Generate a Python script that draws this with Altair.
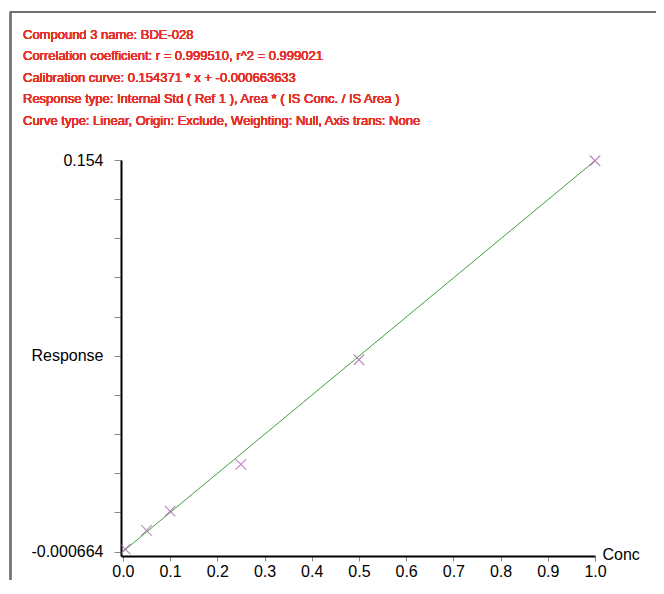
import altair as alt
import pandas as pd

# ---- data ----
conc = [0.005, 0.05, 0.1, 0.25, 0.5, 1.0]
response = [0.0003, 0.0077, 0.0153, 0.0338, 0.0751, 0.1537]

fit_x = [0.0, 1.0]
fit_y = [-0.000664, 0.153707]

x_ticks = [0.0, 0.1, 0.2, 0.3, 0.4, 0.5, 0.6, 0.7, 0.8, 0.9, 1.0]
y_ticks = [-0.000664, 0.014802, 0.030269, 0.045735, 0.061202, 0.076668,
           0.092134, 0.107601, 0.123067, 0.138534, 0.154]

header_lines = [
    "Compound 3 name: BDE-028",
    "Correlation coefficient: r = 0.999510, r^2 = 0.999021",
    "Calibration curve: 0.154371 * x + -0.000663633",
    "Response type: Internal Std ( Ref 1 ), Area * ( IS Conc. / IS Area )",
    "Curve type: Linear, Origin: Exclude, Weighting: Null, Axis trans: None",
]

pts = pd.DataFrame({"Conc": conc, "Response": response})
fit = pd.DataFrame({"Conc": fit_x, "Response": fit_y})

FONT = "Liberation Sans"
xscale = alt.Scale(domain=[-0.004, 1.0], nice=False, zero=False)
yscale = alt.Scale(domain=[-0.0024, 0.154], nice=False, zero=False)

label_expr = (
    "abs(datum.value - 0.154) < 0.0005 ? '0.154' : "
    "abs(datum.value + 0.000664) < 0.0005 ? '-0.000664' : "
    "abs(datum.value - 0.076668) < 0.0005 ? 'Response' : ''"
)

xaxis = alt.Axis(values=x_ticks, tickCount=30, format=".1f", grid=False, domainColor="black",
                 domainWidth=2, tickColor="#888", tickSize=5, tickWidth=1,
                 labelFont=FONT, labelFontSize=16, labelColor="black", labelPadding=2,
                 labelFlush=False, labelOverlap=False,
                 title="Conc", titleFont=FONT, titleFontSize=16, titleFontWeight="normal",
                 titleColor="black", titleAlign="left", titleBaseline="middle",
                 titleX=481, titleY=-2, titleAngle=0)
yaxis = alt.Axis(values=y_ticks, tickCount=30, labelExpr=label_expr, grid=False,
                 domainColor="black", domainWidth=2, tickColor="#888", tickSize=7, tickWidth=1,
                 labelFont=FONT, labelFontSize=16, labelColor="black", labelPadding=11,
                 labelFlush=False, labelOverlap=False, title=None)

base_x = alt.X("Conc:Q", scale=xscale, axis=xaxis)
base_y = alt.Y("Response:Q", scale=yscale, axis=yaxis)

line = alt.Chart(fit).mark_line(color="#3f9f3f", strokeWidth=1).encode(x=base_x, y=base_y)

points = alt.Chart(pts).mark_point(
    shape="M-1,-1L1,1M-1,1L1,-1", size=110, filled=False, color="#a35ca8", strokeWidth=1.2
).encode(x=alt.X("Conc:Q", scale=xscale), y=alt.Y("Response:Q", scale=yscale))

header = alt.Chart(pts).mark_text(
    text=header_lines, align="left", baseline="alphabetic", font=FONT, fontWeight="normal",
    fontSize=13, lineHeight=21.5, color="#e8302a"
).encode(x=alt.value(-98), y=alt.value(-121.3))

frame = alt.Chart(pts).mark_rect(fill="transparent", stroke="#707070", strokeWidth=1.5).encode(
    x=alt.value(-110.5), y=alt.value(-147.7), x2=alt.value(2000), y2=alt.value(2000)
)

chart = alt.layer(frame, line, points, header).properties(
    width=474, height=396,
    background="white",
    autosize=alt.AutoSizeParams(type="none"),
    padding={"left": 113, "top": 152, "right": 61, "bottom": 24},
).configure_view(stroke="transparent", strokeWidth=0)

chart.save("out.html", embed_options={"renderer": "svg", "actions": False})
